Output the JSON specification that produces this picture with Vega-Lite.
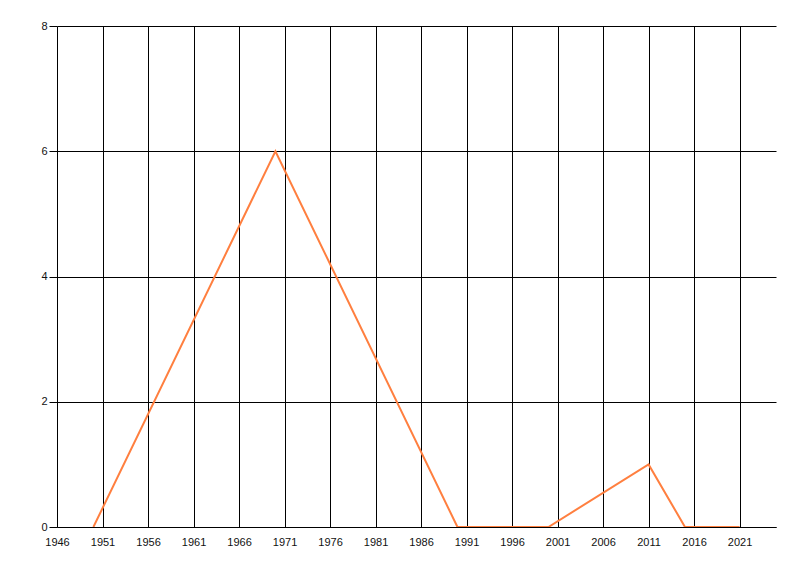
{
  "$schema": "https://vega.github.io/schema/vega-lite/v6.json",
  "width": 719,
  "height": 501,
  "autosize": {"type": "none"},
  "padding": {"left": 57, "top": 26, "right": 24, "bottom": 49},
  "background": "white",
  "data": {
    "values": [
      {"year": 1950, "value": 0},
      {"year": 1970, "value": 6},
      {"year": 1990, "value": 0},
      {"year": 2000, "value": 0},
      {"year": 2011, "value": 1},
      {"year": 2015, "value": 0},
      {"year": 2021, "value": 0}
    ]
  },
  "mark": {"type": "line", "color": "#FF7F3F", "strokeWidth": 2, "clip": true},
  "encoding": {
    "x": {
      "field": "year",
      "type": "quantitative",
      "scale": {"domain": [1946, 2025], "nice": false, "zero": false},
      "axis": {
        "title": null,
        "values": [1946, 1951, 1956, 1961, 1966, 1971, 1976, 1981, 1986, 1991, 1996, 2001, 2006, 2011, 2016, 2021],
        "format": "d",
        "ticks": false,
        "labelPadding": 9,
        "labelFlush": false,
        "domainColor": "black",
        "domainWidth": 1
      }
    },
    "y": {
      "field": "value",
      "type": "quantitative",
      "scale": {"domain": [0, 8], "nice": false},
      "axis": {
        "title": null,
        "values": [0, 2, 4, 6, 8],
        "tickSize": 8,
        "tickColor": "black",
        "labelPadding": 2,
        "domain": false
      }
    }
  },
  "config": {
    "view": {"stroke": null},
    "axis": {
      "grid": true,
      "gridColor": "black",
      "gridOpacity": 1,
      "gridWidth": 1,
      "labelFont": "Liberation Sans",
      "labelFontSize": 11,
      "labelColor": "#111111"
    }
  }
}
